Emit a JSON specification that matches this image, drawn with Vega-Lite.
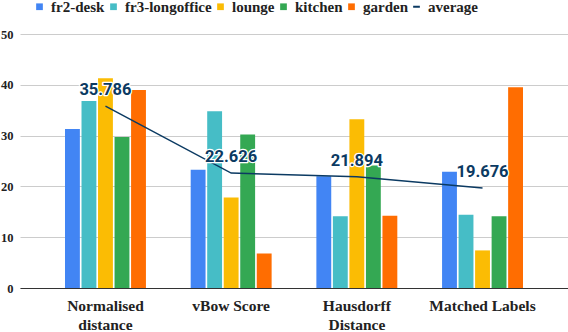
{
  "$schema": "https://vega.github.io/schema/vega-lite/v6.json",
  "width": 548,
  "height": 254,
  "autosize": {"type": "none"},
  "padding": {"left": 20, "top": 34, "right": 0, "bottom": 44},
  "config": {"view": {"stroke": null}, "font": "Liberation Serif"},
  "datasets": {
    "bars": [
      {"metric": "Normalised distance", "series": "fr2-desk", "value": 31.3},
      {"metric": "Normalised distance", "series": "fr3-longoffice", "value": 36.8},
      {"metric": "Normalised distance", "series": "lounge", "value": 41.3},
      {"metric": "Normalised distance", "series": "kitchen", "value": 29.7},
      {"metric": "Normalised distance", "series": "garden", "value": 39.0},
      {"metric": "vBow Score", "series": "fr2-desk", "value": 23.3},
      {"metric": "vBow Score", "series": "fr3-longoffice", "value": 34.8},
      {"metric": "vBow Score", "series": "lounge", "value": 17.8},
      {"metric": "vBow Score", "series": "kitchen", "value": 30.2},
      {"metric": "vBow Score", "series": "garden", "value": 6.8},
      {"metric": "Hausdorff Distance", "series": "fr2-desk", "value": 22.0},
      {"metric": "Hausdorff Distance", "series": "fr3-longoffice", "value": 14.1},
      {"metric": "Hausdorff Distance", "series": "lounge", "value": 33.2},
      {"metric": "Hausdorff Distance", "series": "kitchen", "value": 24.1},
      {"metric": "Hausdorff Distance", "series": "garden", "value": 14.2},
      {"metric": "Matched Labels", "series": "fr2-desk", "value": 22.9},
      {"metric": "Matched Labels", "series": "fr3-longoffice", "value": 14.4},
      {"metric": "Matched Labels", "series": "lounge", "value": 7.4},
      {"metric": "Matched Labels", "series": "kitchen", "value": 14.1},
      {"metric": "Matched Labels", "series": "garden", "value": 39.5}
    ],
    "avg": [
      {"metric": "Normalised distance", "value": 35.786, "label": "35.786"},
      {"metric": "vBow Score", "value": 22.626, "label": "22.626"},
      {"metric": "Hausdorff Distance", "value": 21.894, "label": "21.894"},
      {"metric": "Matched Labels", "value": 19.676, "label": "19.676"}
    ]
  },
  "layer": [
    {
      "data": {"name": "bars"},
      "mark": {"type": "bar"},
      "encoding": {
        "x": {
          "field": "metric", "type": "nominal",
          "sort": ["Normalised distance", "vBow Score", "Hausdorff Distance", "Matched Labels"],
          "scale": {"paddingInner": 0.356, "paddingOuter": 0.358},
          "axis": {
            "title": null, "labelAngle": 0, "ticks": false,
            "domain": true, "domainColor": "#333333", "domainWidth": 1,
            "labelFont": "Liberation Serif", "labelFontWeight": "bold", "labelFontSize": 15.5,
            "labelColor": "#222222", "labelPadding": 10, "labelLineHeight": 19,
            "labelExpr": "datum.label == 'Normalised distance' ? ['Normalised', 'distance'] : datum.label == 'Hausdorff Distance' ? ['Hausdorff', 'Distance'] : datum.label"
          }
        },
        "xOffset": {
          "field": "series", "type": "nominal",
          "sort": ["fr2-desk", "fr3-longoffice", "lounge", "kitchen", "garden"],
          "scale": {"paddingInner": 0.1}
        },
        "y": {
          "field": "value", "type": "quantitative",
          "scale": {"domain": [0, 50]},
          "axis": {
            "title": null, "values": [0, 10, 20, 30, 40, 50],
            "grid": true, "gridColor": "#cccccc", "domain": false, "ticks": false,
            "labelFont": "Liberation Serif", "labelFontWeight": "bold", "labelFontSize": 12.5,
            "labelColor": "#222222", "labelPadding": 7
          }
        },
        "color": {
          "field": "series", "type": "nominal",
          "scale": {
            "domain": ["fr2-desk", "fr3-longoffice", "lounge", "kitchen", "garden", "average"],
            "range": ["#4285F4", "#46BDC6", "#FBBC04", "#34A853", "#FF6D01", "#0b3a62"]
          },
          "legend": {
            "title": null, "orient": "none", "direction": "horizontal",
            "legendX": 12, "legendY": -35,
            "labelFont": "Liberation Serif", "labelFontWeight": "bold", "labelFontSize": 15,
            "labelColor": "#222222", "symbolSize": 45, "symbolType": "square",
            "labelOffset": 4, "columnPadding": 1, "symbolStrokeWidth": 0,
            "encode": {
              "symbols": {
                "update": {
                  "shape": {"signal": "datum.value === 'average' ? 'M-1,-0.3H1V0.3H-1Z' : 'square'"}
                }
              }
            }
          }
        }
      }
    },
    {
      "data": {"name": "avg"},
      "mark": {"type": "line", "strokeWidth": 1.5},
      "encoding": {
        "x": {"field": "metric", "type": "nominal", "sort": ["Normalised distance", "vBow Score", "Hausdorff Distance", "Matched Labels"]},
        "y": {"field": "value", "type": "quantitative"},
        "color": {"datum": "average"}
      }
    },
    {
      "data": {"name": "avg"},
      "mark": {"type": "text", "font": "Roboto", "fontWeight": "bold", "fontSize": 16.5, "dy": -16, "baseline": "middle", "stroke": "white", "strokeWidth": 2.5, "strokeJoin": "round", "fill": "white"},
      "encoding": {
        "x": {"field": "metric", "type": "nominal", "sort": ["Normalised distance", "vBow Score", "Hausdorff Distance", "Matched Labels"]},
        "y": {"field": "value", "type": "quantitative"},
        "text": {"field": "label"}
      }
    },
    {
      "data": {"name": "avg"},
      "mark": {"type": "text", "font": "Roboto", "fontWeight": "bold", "fontSize": 16.5, "dy": -16, "baseline": "middle", "fill": "#0b3a62"},
      "encoding": {
        "x": {"field": "metric", "type": "nominal", "sort": ["Normalised distance", "vBow Score", "Hausdorff Distance", "Matched Labels"]},
        "y": {"field": "value", "type": "quantitative"},
        "text": {"field": "label"}
      }
    }
  ]
}
